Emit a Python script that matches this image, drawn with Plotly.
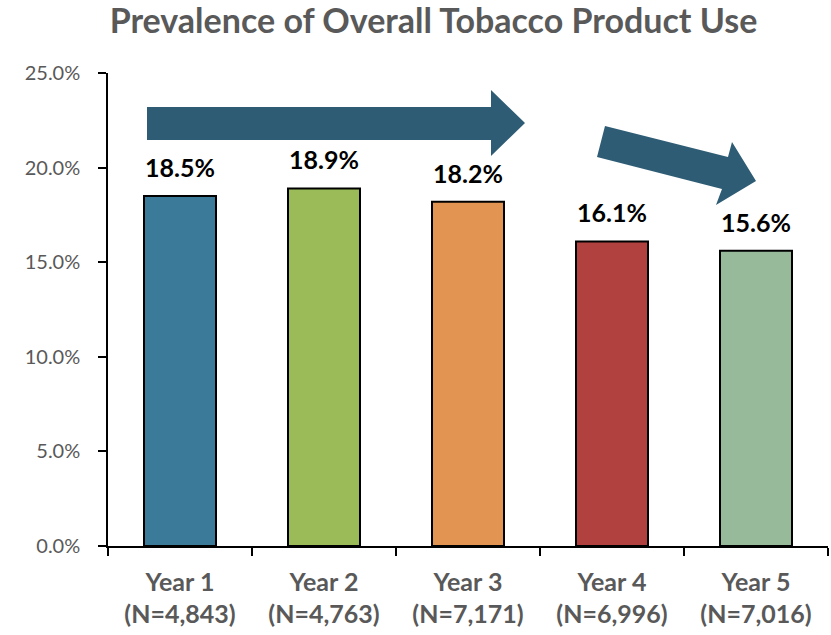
import plotly.graph_objects as go

# Survey years, sample sizes and overall prevalence (%)
years = ["Year 1", "Year 2", "Year 3", "Year 4", "Year 5"]
sample_sizes = ["4,843", "4,763", "7,171", "6,996", "7,016"]
prevalence = [18.5, 18.9, 18.2, 16.1, 15.6]
bar_colors = ["#3B7A99", "#9BBB59", "#E29452", "#B0413E", "#96BA9A"]

y_ticks = [0, 5, 10, 15, 20, 25]
y_tick_text = [f"{v:.1f}%" for v in y_ticks]

W, H = 831, 635
M_L, M_R, M_T, M_B = 108, 3, 73, 89
PW, PH = W - M_L - M_R, H - M_T - M_B

x_labels = [f"<b>{y}<br>(N={n})</b>" for y, n in zip(years, sample_sizes)]

fig = go.Figure(
    go.Bar(
        x=x_labels,
        y=prevalence,
        marker=dict(color=bar_colors, line=dict(color="black", width=2)),
        width=0.5,
        hoverinfo="skip",
    )
)

# value labels above each bar
for xl, v in zip(x_labels, prevalence):
    fig.add_annotation(
        x=xl, y=v, text=f"<b>{v:.1f}%</b>", showarrow=False,
        yanchor="bottom", yshift=12,
        font=dict(family="Lato", size=25, color="black"),
    )


def px_to_paper(pts):
    return [((x - M_L) / PW, (H - M_B - y) / PH) for x, y in pts]


def path_from(pts):
    p = px_to_paper(pts)
    return "M " + " L ".join(f"{x:.5f},{y:.5f}" for x, y in p) + " Z"


arrow_color = "#2E5C74"
# flat trend arrow across the first three years
flat_arrow = [(147, 107), (491, 107), (491, 90), (525, 123),
              (491, 156), (491, 140), (147, 140)]
# declining trend arrow over the last two years
down_arrow = [(605, 126), (728, 157), (732, 142), (756, 181),
              (716, 205), (722, 189), (597, 157)]
for pts in (flat_arrow, down_arrow):
    fig.add_shape(type="path", xref="paper", yref="paper",
                  path=path_from(pts), fillcolor=arrow_color,
                  line=dict(width=0), layer="above")

fig.update_layout(
    width=W, height=H,
    margin=dict(l=M_L, r=M_R, t=M_T, b=M_B),
    paper_bgcolor="white", plot_bgcolor="white",
    showlegend=False,
    title=dict(
        text="<b>Prevalence of Overall Tobacco Product Use</b>",
        x=433.5 / W, xanchor="center", xref="container",
        y=1 - 33 / H, yanchor="bottom", yref="container",
        font=dict(family="Lato", size=34, color="#595959"),
    ),
    font=dict(family="Lato"),
)
fig.update_xaxes(
    showline=True, linecolor="black", linewidth=1.5,
    ticks="outside", tickson="boundaries", ticklen=8, tickcolor="black",
    tickwidth=1.5, ticklabelstandoff=13,
    tickfont=dict(family="Lato", size=25, color="#595959"),
    showgrid=False, fixedrange=True,
)
fig.update_yaxes(
    range=[0, 25], tickvals=y_ticks, ticktext=y_tick_text,
    showline=True, linecolor="black", linewidth=1.5,
    ticks="outside", ticklen=8, tickcolor="black", tickwidth=1.5,
    ticklabelstandoff=14,
    tickfont=dict(family="Lato", size=20, color="#595959"),
    showgrid=False, zeroline=False, fixedrange=True,
)

fig.write_html("out.html")
